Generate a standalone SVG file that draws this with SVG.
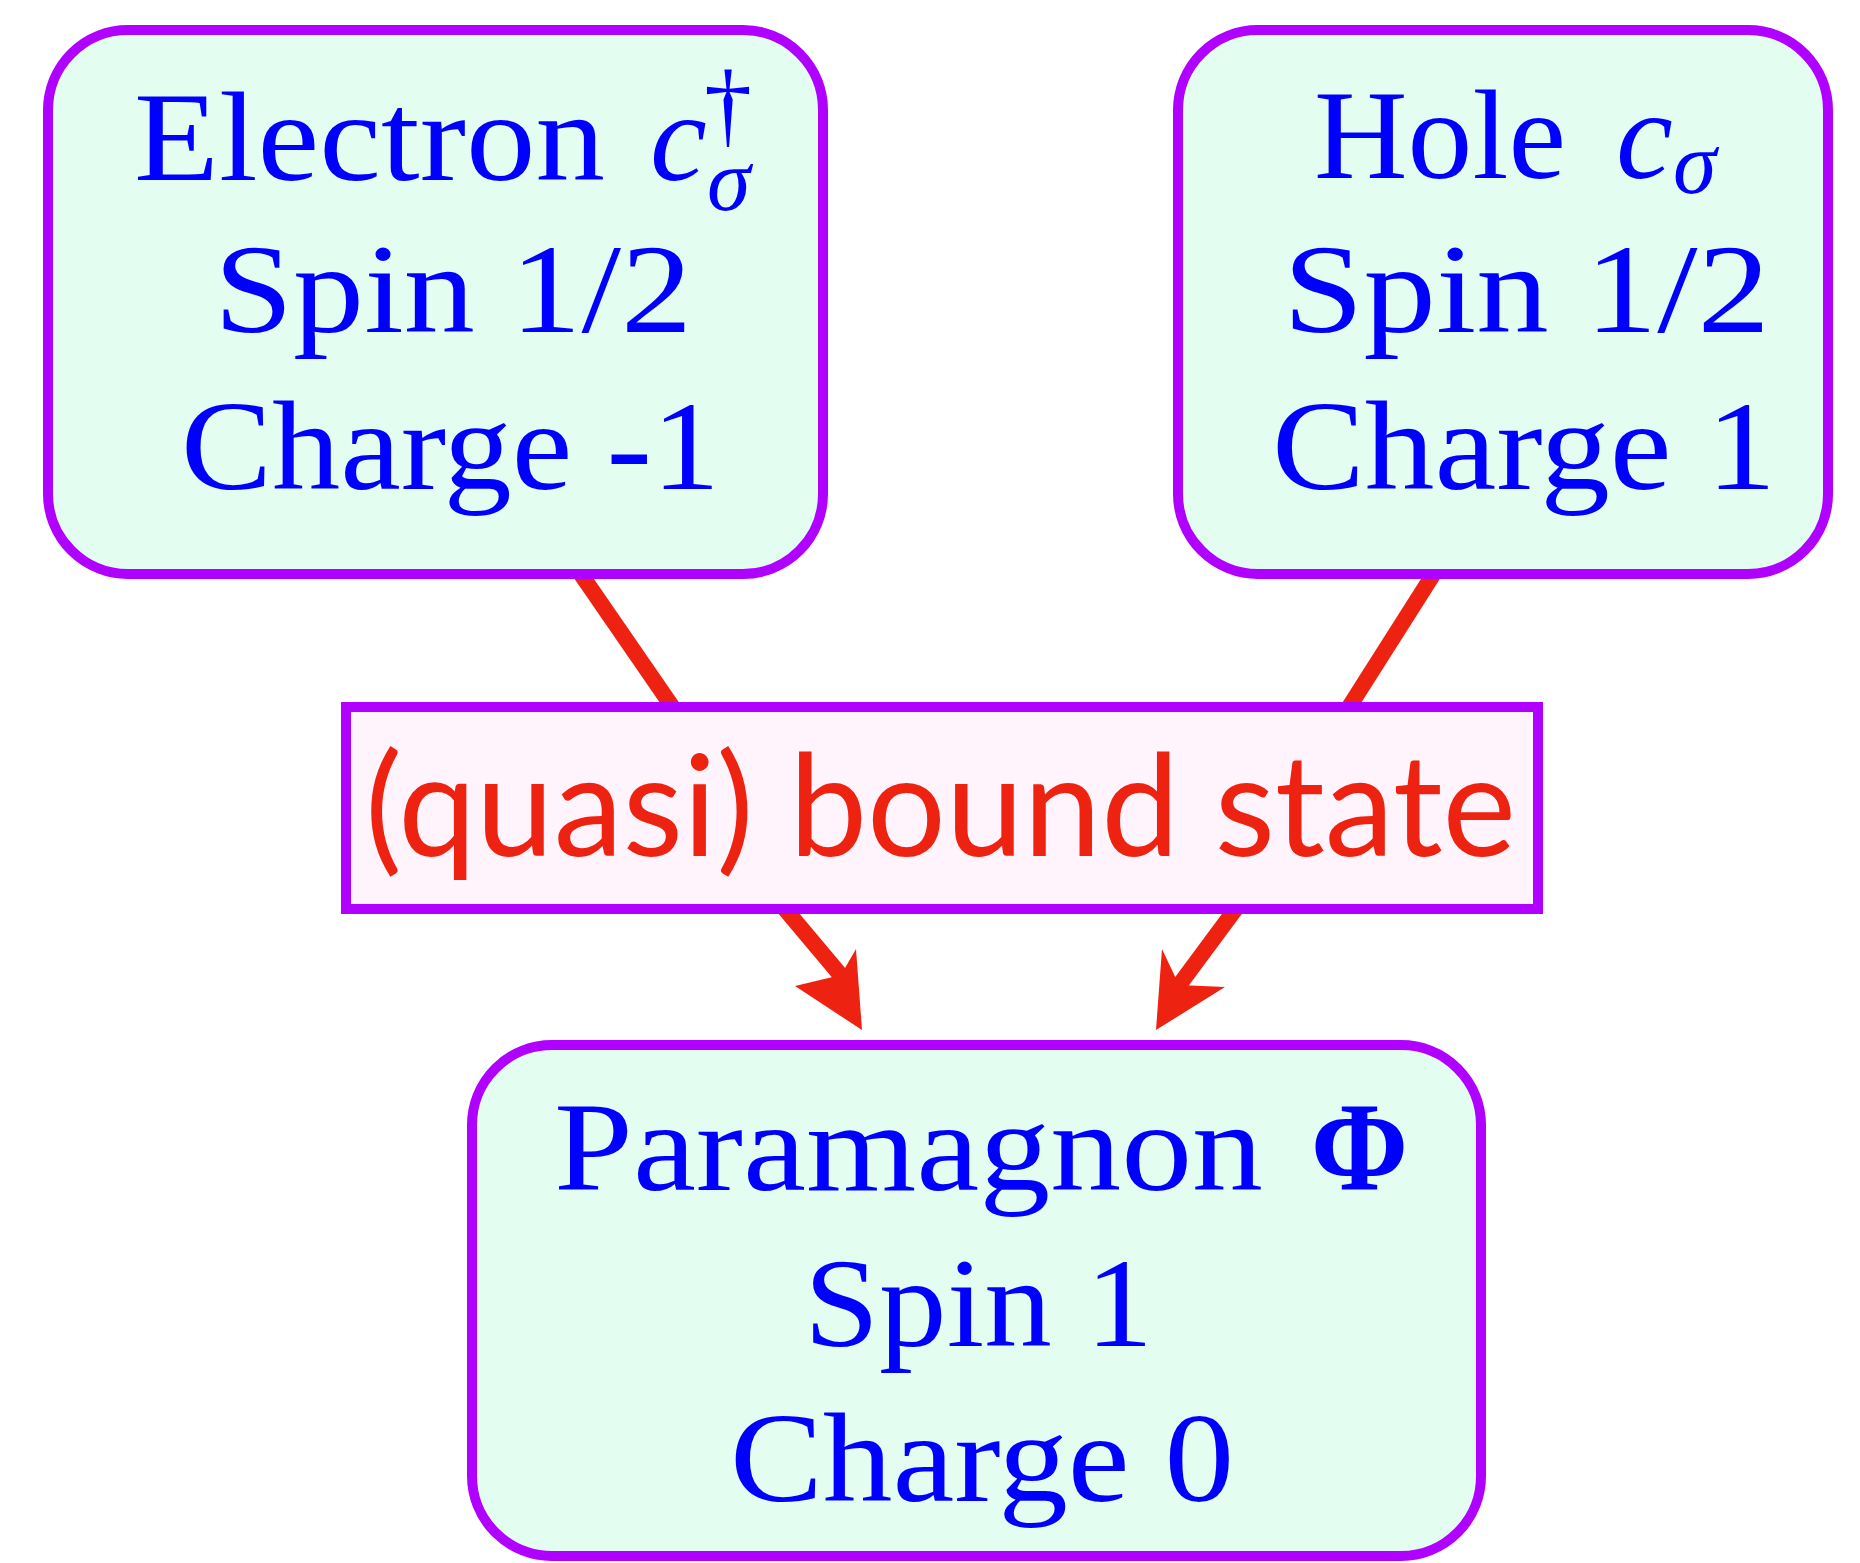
<svg xmlns="http://www.w3.org/2000/svg" width="1860" height="1563" viewBox="0 0 1860 1563">
<style>
.node{fill:#e3fdf0;stroke:#b000ff;stroke-width:10}
.lbl{fill:#fff4fb;stroke:#b000ff;stroke-width:10}
.t{font-family:"Liberation Serif","DejaVu Serif",serif;font-size:128px;fill:#0000ff}
.m{font-family:"Liberation Serif","DejaVu Serif",serif;font-style:italic;font-size:128px;fill:#0000ff}
.e{stroke:#ee2211;stroke-width:16;fill:none}
.h{fill:#ee2211}
.b{font-family:Lato,"Open Sans",sans-serif;font-size:142px;fill:#ee2211}
</style>
<g id="connectors">
<line class="e" x1="576" y1="567" x2="678" y2="715"/>
<line class="e" x1="780" y1="903" x2="843" y2="978"/>
<polygon class="h" points="862,1030 795,986 841,975 856,949"/>
<line class="e" x1="1438" y1="567" x2="1344" y2="715"/>
<line class="e" x1="1240" y1="903" x2="1177" y2="988"/>
<polygon class="h" points="1156,1030 1225,987 1179,985 1162,949"/>
</g>
<g id="electron">
<rect class="node" x="48" y="30" width="775" height="544" rx="80"/>
<text class="t" x="134" y="180" textLength="471" lengthAdjust="spacingAndGlyphs">Electron</text>
<text class="m"><tspan x="650" y="180">c</tspan><tspan x="704" y="136" font-size="96" font-style="normal">†</tspan><tspan x="707" y="210" font-size="88">σ</tspan></text>
<text class="t" x="214" y="332" textLength="478" lengthAdjust="spacingAndGlyphs">Spin 1/2</text>
<text class="t" x="181" y="489" textLength="539" lengthAdjust="spacingAndGlyphs">Charge -1</text>
</g>
<g id="hole">
<rect class="node" x="1178" y="30" width="650" height="544" rx="80"/>
<text class="t" x="1314" y="178" textLength="252" lengthAdjust="spacingAndGlyphs">Hole</text>
<text class="m"><tspan x="1616" y="178">c</tspan><tspan x="1673" y="193" font-size="88">σ</tspan></text>
<text class="t" x="1283" y="332" textLength="487" lengthAdjust="spacingAndGlyphs">Spin 1/2</text>
<text class="t" x="1272" y="489" textLength="504" lengthAdjust="spacingAndGlyphs">Charge 1</text>
</g>
<g id="bound">
<rect class="lbl" x="346" y="707" width="1192" height="202"/>
<text class="b" x="365" y="856" textLength="1151" lengthAdjust="spacingAndGlyphs">(quasi) bound state</text>
</g>
<g id="paramagnon">
<rect class="node" x="472" y="1045" width="1009" height="511" rx="80"/>
<text class="t" x="554" y="1190" textLength="709" lengthAdjust="spacingAndGlyphs">Paramagnon</text>
<text class="t" x="1311" y="1190" font-weight="bold" textLength="97" lengthAdjust="spacingAndGlyphs">Φ</text>
<text class="t" x="804" y="1346" textLength="349" lengthAdjust="spacingAndGlyphs">Spin 1</text>
<text class="t" x="730" y="1501" textLength="504" lengthAdjust="spacingAndGlyphs">Charge 0</text>
</g>
</svg>
